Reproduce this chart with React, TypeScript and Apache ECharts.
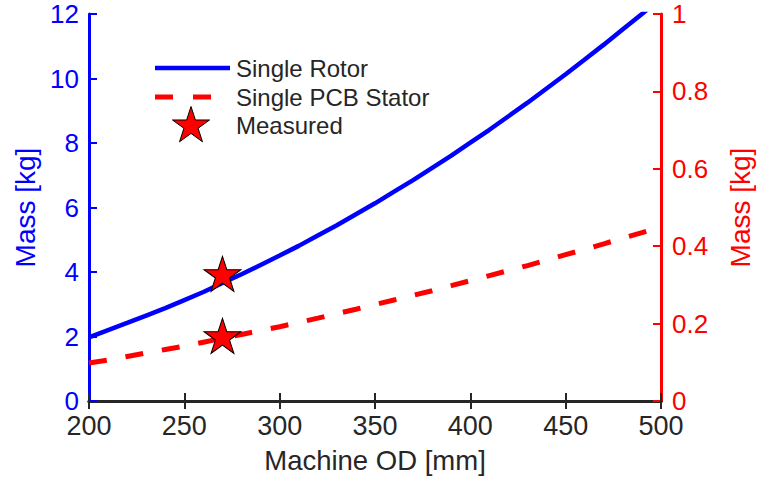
import React, { useEffect, useRef } from "react";
import * as echarts from "echarts";

// Machine outer diameter [mm]
const od = [200, 210, 220, 230, 240, 250, 260, 270, 280, 290, 300, 310, 320, 330, 340, 350, 360, 370, 380, 390, 400, 410, 420, 430, 440, 450, 460, 470, 480, 490, 500];

// Single rotor mass [kg] (left axis)
const rotorMass = [1.97, 2.2, 2.42, 2.65, 2.88, 3.13, 3.38, 3.66, 3.93, 4.22, 4.51, 4.81, 5.13, 5.45, 5.79, 6.13, 6.49, 6.85, 7.23, 7.61, 8.01, 8.41, 8.83, 9.25, 9.69, 10.13, 10.59, 11.05, 11.53, 12.0, 12.5];

// Single PCB stator mass [kg] (right axis)
const statorMass = [0.098, 0.106, 0.115, 0.124, 0.133, 0.142, 0.152, 0.162, 0.172, 0.182, 0.192, 0.203, 0.214, 0.226, 0.237, 0.249, 0.261, 0.273, 0.285, 0.298, 0.311, 0.324, 0.337, 0.350, 0.364, 0.378, 0.392, 0.406, 0.421, 0.435, 0.45];

// Measured prototype points: [OD mm, mass kg]
const measuredRotor = [[270, 3.88]];
const measuredStator = [[270, 0.163]];

// Legend entries
const legendNames = ["Single Rotor", "Single PCB Stator", "Measured"];

const FONT = "Liberation Sans, Arial, Helvetica, sans-serif";
const INK = "#262626";
const BLUE = "#0000ff";
const RED = "#ff0000";

const STAR =
  "path://M50,0L61.2,34.5L97.6,34.5L68.2,55.9L79.4,90.5L50,69.1L20.6,90.5L31.8,55.9L2.4,34.5L38.8,34.5Z";

// Five-pointed star outline around a centre, for the legend glyph
function starPoints(cx: number, cy: number, R: number): number[][] {
  const pts: number[][] = [];
  for (let k = 0; k < 10; k++) {
    const a = ((-90 + k * 36) * Math.PI) / 180;
    const r = k % 2 === 0 ? R : R * 0.382;
    pts.push([cx + r * Math.cos(a), cy + r * Math.sin(a)]);
  }
  return pts;
}

export default function App() {
  const ref = useRef<HTMLDivElement>(null);

  useEffect(() => {
    if (!ref.current) return;
    const chart = echarts.init(ref.current, null, { renderer: "svg" });

    const xCommon = {
      type: "value" as const,
      min: 200,
      max: 500,
      interval: 50,
      splitLine: { show: false },
      axisLine: { show: true, lineStyle: { color: INK, width: 3 } },
      axisTick: { show: true, inside: true, length: 8, lineStyle: { color: INK, width: 2 } },
    };

    const lgX = 155;
    const lgW = 75;
    const rowY = [68, 97, 125];
    const textStyle = { fill: INK, fontSize: 24, fontFamily: FONT, verticalAlign: "middle" as const };

    chart.setOption({
      animation: false,
      backgroundColor: "#ffffff",
      textStyle: { fontFamily: FONT },
      grid: { left: 89, right: 92, top: 14, bottom: 79, containLabel: false },
      graphic: [
        {
          type: "line",
          shape: { x1: lgX, y1: rowY[0], x2: lgX + lgW, y2: rowY[0] },
          style: { stroke: BLUE, lineWidth: 4.5 },
          z: 10,
        },
        {
          type: "line",
          shape: { x1: lgX, y1: rowY[1], x2: lgX + lgW, y2: rowY[1] },
          style: { stroke: RED, lineWidth: 5, lineDash: [18, 20] },
          z: 10,
        },
        {
          type: "polygon",
          shape: { points: starPoints(lgX + 36, rowY[2] + 1, 19.5) },
          style: { fill: RED, stroke: "#000000", lineWidth: 1 },
          z: 10,
        },
        ...legendNames.map((n, i) => ({
          type: "text",
          x: lgX + lgW + 6,
          y: rowY[i],
          style: { ...textStyle, text: n },
          z: 10,
        })),
      ],
      xAxis: [
        {
          ...xCommon,
          position: "bottom",
          name: "Machine OD [mm]",
          nameLocation: "middle",
          nameGap: 45,
          nameTextStyle: { fontSize: 27.5, color: INK, fontFamily: FONT },
          axisLabel: { color: INK, fontSize: 27, margin: 11, fontFamily: FONT },
        },
        {
          ...xCommon,
          position: "top",
          axisLabel: { show: false },
        },
      ],
      yAxis: [
        {
          type: "value",
          position: "left",
          min: 0,
          max: 12,
          interval: 2,
          alignTicks: false,
          splitLine: { show: false },
          axisLine: { show: true, lineStyle: { color: BLUE, width: 3 } },
          axisTick: { show: true, inside: true, length: 8, lineStyle: { color: BLUE, width: 2 } },
          axisLabel: { color: BLUE, fontSize: 26, margin: 10, fontFamily: FONT },
          name: "Mass [kg]",
          nameLocation: "middle",
          nameRotate: 90,
          nameGap: 42,
          nameTextStyle: { fontSize: 28, color: BLUE, fontFamily: FONT },
        },
        {
          type: "value",
          position: "right",
          min: 0,
          max: 1,
          interval: 0.2,
          alignTicks: false,
          splitLine: { show: false },
          axisLine: { show: true, lineStyle: { color: RED, width: 3 } },
          axisTick: { show: true, inside: true, length: 8, lineStyle: { color: RED, width: 2 } },
          axisLabel: {
            color: RED,
            fontSize: 26,
            margin: 11,
            fontFamily: FONT,
            formatter: (v: number) => String(Math.round(v * 10) / 10),
          },
          name: "Mass [kg]",
          nameLocation: "middle",
          nameRotate: 90,
          nameGap: 65,
          nameTextStyle: { fontSize: 28, color: RED, fontFamily: FONT },
        },
      ],
      series: [
        {
          name: "Single Rotor",
          type: "line",
          xAxisIndex: 0,
          yAxisIndex: 0,
          symbol: "none",
          clip: true,
          color: BLUE,
          lineStyle: { color: BLUE, width: 4.5 },
          data: od.map((x, i) => [x, rotorMass[i]]),
          z: 2,
        },
        {
          name: "Single PCB Stator",
          type: "line",
          xAxisIndex: 0,
          yAxisIndex: 1,
          symbol: "none",
          clip: true,
          color: RED,
          lineStyle: { color: RED, width: 5, type: [18, 19] },
          data: od.map((x, i) => [x, statorMass[i]]),
          z: 2,
        },
        {
          name: "Measured",
          type: "scatter",
          xAxisIndex: 0,
          yAxisIndex: 0,
          symbol: STAR,
          symbolSize: [37, 35],
          symbolOffset: [0, -2],
          itemStyle: { color: RED, opacity: 1, borderColor: "#000000", borderWidth: 1 },
          data: measuredRotor,
          z: 5,
        },
        {
          name: "Measured",
          type: "scatter",
          xAxisIndex: 0,
          yAxisIndex: 1,
          symbol: STAR,
          symbolSize: [37, 35],
          symbolOffset: [0, -2],
          itemStyle: { color: RED, opacity: 1, borderColor: "#000000", borderWidth: 1 },
          data: measuredStator,
          z: 5,
        },
      ],
    });

    return () => chart.dispose();
  }, []);

  return (
    <div
      ref={ref}
      style={{ position: "fixed", left: 0, top: 0, width: 762, height: 480, background: "#fff" }}
    />
  );
}
